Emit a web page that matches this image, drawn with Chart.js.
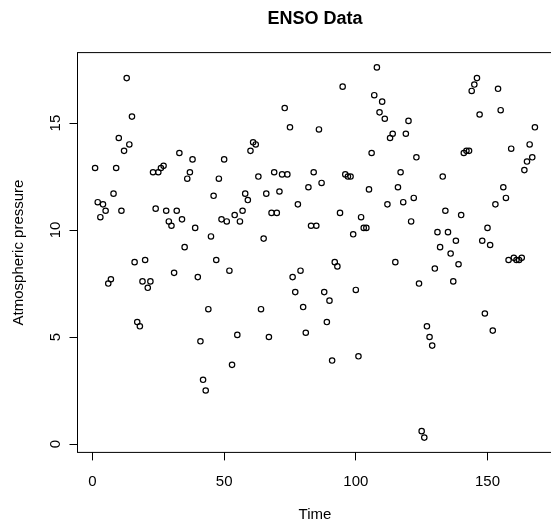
<!DOCTYPE html>
<html>
<head>
<meta charset="utf-8">
<script src="https://cdn.jsdelivr.net/npm/chart.js@4"></script>
<style>
html,body{margin:0;padding:0;background:#fff;overflow:hidden;width:551px;height:523px;}
canvas{display:block;}
</style>
</head>
<body>
<canvas id="c" width="560" height="523"></canvas>
<script>
// Monthly averaged atmospheric pressure (ENSO data)
const pressure = [
  12.9, 11.3, 10.6, 11.2, 10.9, 7.5, 7.7, 11.7, 12.9, 14.3,
  10.9, 13.7, 17.1, 14.0, 15.3, 8.5, 5.7, 5.5, 7.6, 8.6,
  7.3, 7.6, 12.7, 11.0, 12.7, 12.9, 13.0, 10.9, 10.4, 10.2,
  8.0, 10.9, 13.6, 10.5, 9.2, 12.4, 12.7, 13.3, 10.1, 7.8,
  4.8, 3.0, 2.5, 6.3, 9.7, 11.6, 8.6, 12.4, 10.5, 13.3,
  10.4, 8.1, 3.7, 10.7, 5.1, 10.4, 10.9, 11.7, 11.4, 13.7,
  14.1, 14.0, 12.5, 6.3, 9.6, 11.7, 5.0, 10.8, 12.7, 10.8,
  11.8, 12.6, 15.7, 12.6, 14.8, 7.8, 7.1, 11.2, 8.1, 6.4,
  5.2, 12.0, 10.2, 12.7, 10.2, 14.7, 12.2, 7.1, 5.7, 6.7,
  3.9, 8.5, 8.3, 10.8, 16.7, 12.6, 12.5, 12.5, 9.8, 7.2,
  4.1, 10.6, 10.1, 10.1, 11.9, 13.6, 16.3, 17.6, 15.5, 16.0,
  15.2, 11.2, 14.3, 14.5, 8.5, 12.0, 12.7, 11.3, 14.5, 15.1,
  10.4, 11.5, 13.4, 7.5, 0.6, 0.3, 5.5, 5.0, 4.6, 8.2,
  9.9, 9.2, 12.5, 10.9, 9.9, 8.9, 7.6, 9.5, 8.4, 10.7,
  13.6, 13.7, 13.7, 16.5, 16.8, 17.1, 15.4, 9.5, 6.1, 10.1,
  9.3, 5.3, 11.2, 16.6, 15.6, 12.0, 11.5, 8.6, 13.8, 8.7,
  8.6, 8.6, 8.7, 12.8, 13.2, 14.0, 13.4, 14.8
];
// Time index (months 1..168)
const time = pressure.map((_, i) => i + 1);
const xTicks = [0, 50, 100, 150];
const yTicks = [0, 5, 10, 15];
const xRange = [-5.68, 174.68];
const yRange = [-0.392, 18.292];
const titleText = 'ENSO Data';
const xTitle = 'Time';
const yTitle = 'Atmospheric pressure';

const points = time.map((t, i) => ({x: t, y: pressure[i]}));

const boxPlugin = {
  id: 'box',
  afterDraw(chart) {
    const a = chart.chartArea, ctx = chart.ctx;
    ctx.save();
    ctx.strokeStyle = '#000';
    ctx.lineWidth = 1;
    ctx.strokeRect(a.left, a.top, a.right - a.left, a.bottom - a.top);
    ctx.restore();
  }
};

const FONT = "'Liberation Sans', Arial, sans-serif";

new Chart(document.getElementById('c'), {
  type: 'scatter',
  data: {
    datasets: [{
      data: points,
      pointStyle: 'circle',
      pointRadius: 2.7,
      pointHoverRadius: 2.7,
      pointBorderWidth: 1.2,
      borderColor: '#000',
      backgroundColor: 'rgba(0,0,0,0)',
      pointBackgroundColor: 'rgba(0,0,0,0)'
    }]
  },
  options: {
    responsive: false,
    animation: false,
    devicePixelRatio: 1,
    events: [],
    layout: {padding: {left: 0, right: 7.5, top: 0, bottom: 0}},
    plugins: {
      legend: {display: false},
      tooltip: {enabled: false},
      title: {
        display: true,
        text: titleText,
        fullSize: false,
        color: '#000',
        font: {family: FONT, size: 18, weight: 'bold', lineHeight: 1.2},
        padding: {top: 8.7, bottom: 22.3}
      }
    },
    scales: {
      x: {
        type: 'linear',
        position: 'bottom',
        min: xRange[0],
        max: xRange[1],
        afterBuildTicks: s => { s.ticks = xTicks.map(v => ({value: v})); },
        afterFit: s => { s.height = 70.6; },
        grid: {display: true, drawOnChartArea: false, drawTicks: true, tickLength: 8, tickColor: '#000', color: '#000'},
        border: {display: false},
        ticks: {color: '#000', font: {family: FONT, size: 15, lineHeight: 1.2}, padding: 12.6, maxRotation: 0, autoSkip: false},
        title: {display: true, text: xTitle, color: '#000', font: {family: FONT, size: 15, lineHeight: 1}, padding: {top: 0, bottom: 0.5}}
      },
      y: {
        type: 'linear',
        position: 'left',
        min: yRange[0],
        max: yRange[1],
        afterBuildTicks: s => { s.ticks = yTicks.map(v => ({value: v})); },
        afterFit: s => { s.width = 77.5; },
        grid: {display: true, drawOnChartArea: false, drawTicks: true, tickLength: 8, tickColor: '#000', color: '#000'},
        border: {display: false},
        ticks: {color: '#000', font: {family: FONT, size: 15, lineHeight: 1.2}, padding: 5.2, minRotation: 90, maxRotation: 90, crossAlign: 'center', autoSkip: false},
        title: {display: true, text: yTitle, color: '#000', font: {family: FONT, size: 15, lineHeight: 1}, padding: {top: 11.5, bottom: 0}}
      }
    }
  },
  plugins: [boxPlugin]
});
</script>
</body>
</html>
